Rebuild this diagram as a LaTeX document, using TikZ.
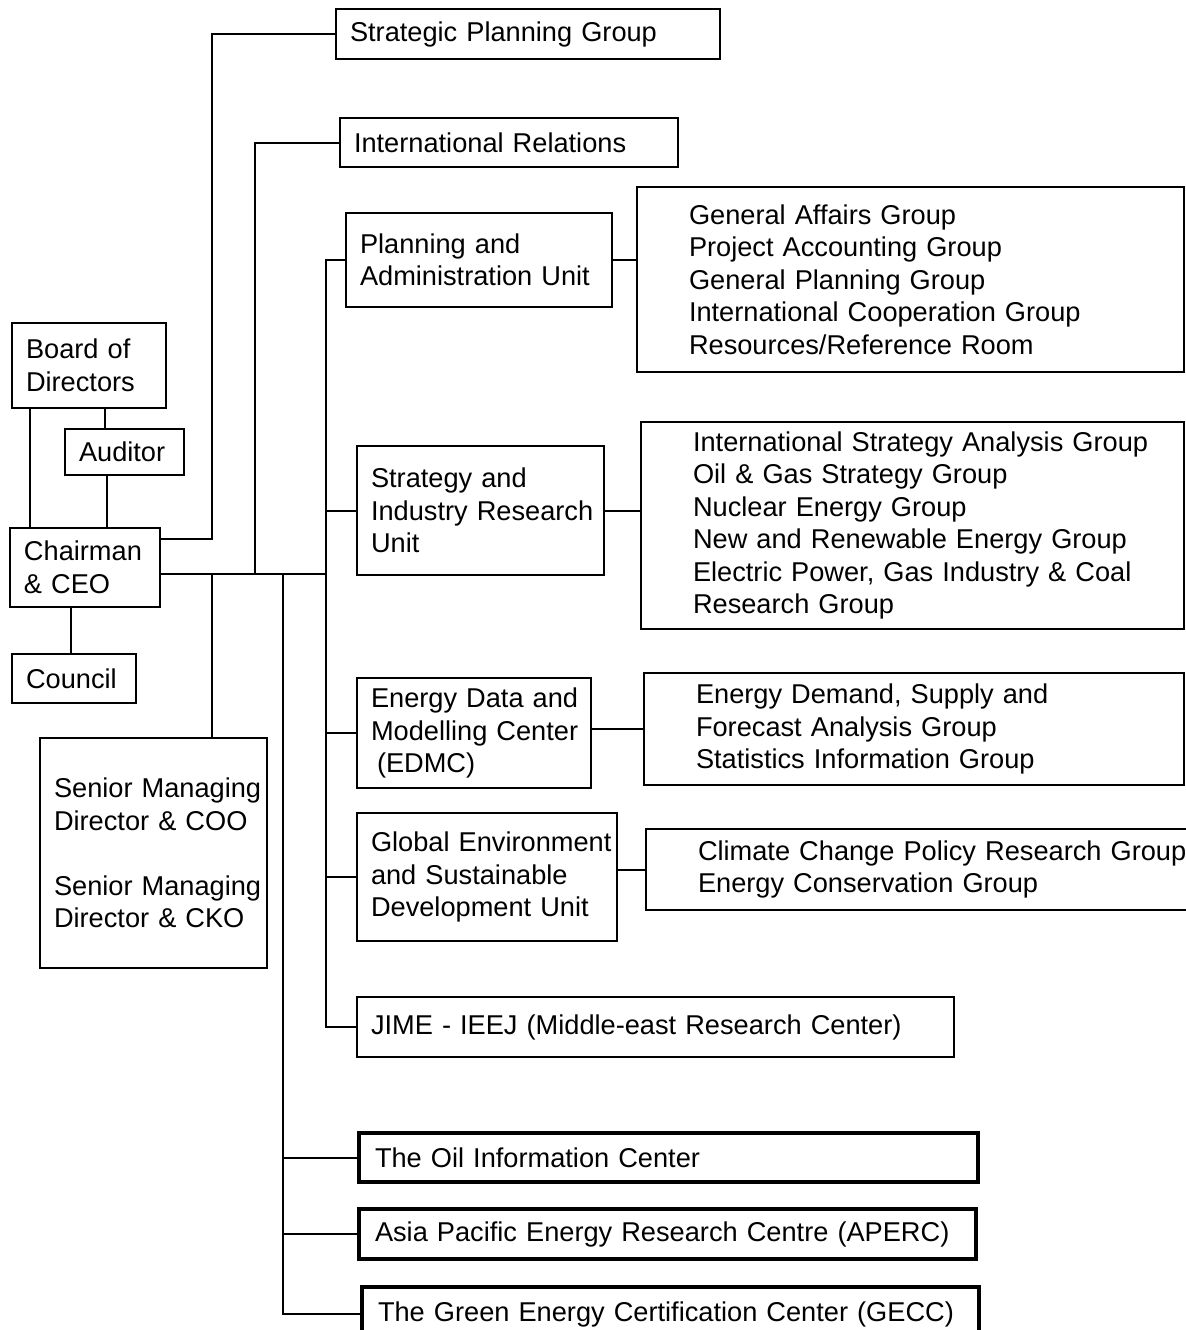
\documentclass[tikz,border=0pt]{standalone}
\usepackage{fontspec}
\setmainfont{Liberation Sans}
\usetikzlibrary{positioning}

\begin{document}
\begin{tikzpicture}[x=0.5pt,y=-0.5pt,line width=1pt,
    box/.style={draw,line width=1pt,rectangle,anchor=north west,align=left,
                inner xsep=0pt,inner ysep=0pt,font=\fontsize{13.6}{16.25}\selectfont},
    textlead/.style={execute at begin node={\leftskip=#1\relax}},
    unit/.style={box,textlead=7pt},
    grp/.style={box,textlead=26pt},
    centre/.style={box,line width=2pt,textlead=8pt}]
                            % \draw[help lines] (0,0) grid (1186,1330);
                            \useasboundingbox (0,0) rectangle (1186,1330);
                            \clip (0,0) rectangle (1186,1330);

                            \node[unit,text width=77pt,minimum height=42.5pt]    (board)   at (11,322)   {Board of\\Directors};
                            \node[unit,text width=59.5pt,minimum height=23pt]    (aud)     at (64,428)   {Auditor};
                            \node[unit,text width=75pt,minimum height=39.5pt]    (ceo)     at (9,527)    {Chairman\\\& CEO};
                            \node[unit,text width=62pt,minimum height=24.5pt]    (council) at (11,653)   {Council};
                            \node[unit,text width=113.5pt,minimum height=115pt]  (smd)     at (39,737)   {Senior Managing\\Director \& COO\\[16.25pt]Senior Managing\\Director \& CKO};

                            \node[unit,text width=192pt,minimum height=25pt]     (spg)     at (335,8)    {Strategic Planning Group};
                            \node[unit,text width=169pt,minimum height=24.5pt]   (intl)    at (339,117)  {International Relations};
                            \node[unit,text width=133pt,minimum height=47pt]     (pau)     at (345,212)  {Planning and\\Administration Unit};
                            \node[unit,text width=123.5pt,minimum height=64.5pt] (siru)    at (356,445)  {Strategy and\\Industry Research\\Unit};
                            \node[unit,text width=117pt,minimum height=55pt]     (edmc)    at (356,677)  {Energy Data and\\Modelling Center\\\hspace*{3pt}(EDMC)};
                            \node[unit,text width=130pt,minimum height=64pt]     (gesd)    at (356,812)  {Global Environment\\and Sustainable\\Development Unit};
                            \node[unit,text width=298.5pt,minimum height=30pt]   (jime)    at (356,996)  {JIME - IEEJ (Middle-east Research Center)};

                            \node[grp,text width=273.5pt,minimum height=92.5pt]  (pag)     at (636,186)  {General Affairs Group\\Project Accounting Group\\General Planning Group\\International Cooperation Group\\Resources/Reference Room};
                            \node[grp,text width=271.5pt,minimum height=103.5pt] (sig)     at (640,421)  {International Strategy Analysis Group\\Oil \& Gas Strategy Group\\Nuclear Energy Group\\New and Renewable Energy Group\\Electric Power, Gas Industry \& Coal\\Research Group};
                            \node[grp,text width=270pt,minimum height=56pt]      (emg)     at (643,672)  {Energy Demand, Supply and\\Forecast Analysis Group\\Statistics Information Group};
                            \node[grp,text width=280pt,minimum height=40.5pt]    (gcg)     at (645,828)  {Climate Change Policy Research Group\\Energy Conservation Group};

                            \node[centre,text width=309.5pt,minimum height=24.5pt] (oil)   at (357,1131) {The Oil Information Center};
                            \node[centre,text width=308.5pt,minimum height=25pt]   (aperc) at (357,1207) {Asia Pacific Energy Research Centre (APERC)};
                            \node[centre,text width=308.5pt,minimum height=27pt]   (gecc)  at (360,1285) {The Green Energy Certification Center (GECC)};

                            \coordinate (hub) at (326,574);
                            \coordinate (sp)  at (212,539);
                            \coordinate (ir)  at (255,574);
                            \coordinate (sm)  at (212,574);
                            \coordinate (ctr) at (283,574);

                            % board, auditor, council
                            \draw ([xshift=9.5pt]board.south west) -- ([xshift=9.5pt]board.south west |- ceo.north);
                            \draw ([xshift=-10pt]aud.north) -- ([xshift=-10pt]aud.north |- board.south);
                            \draw ([xshift=-9pt]aud.south) -- ([xshift=-9pt]aud.south |- ceo.north);
                            \draw ([xshift=-1.5pt]council.north) -- ([xshift=-1.5pt]council.north |- ceo.south);

                            % chairman to the rest
                            \draw (ceo.east |- sp) -- (sp) |- (spg.west);
                            \draw (ceo.east |- hub) -- (hub);
                            \draw (ir) |- (intl.west);
                            \draw (sm) -- (sm |- smd.north);

                            \draw (pau.west) -| (hub |- jime.west) -- (jime.west);
                            \draw (hub |- siru.west) -- (siru.west);
                            \draw (hub |- edmc.west) -- (edmc.west);
                            \draw (hub |- gesd.west) -- (gesd.west);

                            \draw (pau.east) -- (pau.east -| pag.west);
                            \draw (siru.east) -- (siru.east -| sig.west);
                            \draw (edmc.east |- emg.west) -- (emg.west);
                            \draw (gesd.east |- gcg.west) -- (gcg.west);

                            \draw (ctr) |- (gecc.west);
                            \draw (ctr |- oil.west) -- (oil.west);
                            \draw (ctr |- aperc.west) -- (aperc.west);
                        \end{tikzpicture}
\end{document}
